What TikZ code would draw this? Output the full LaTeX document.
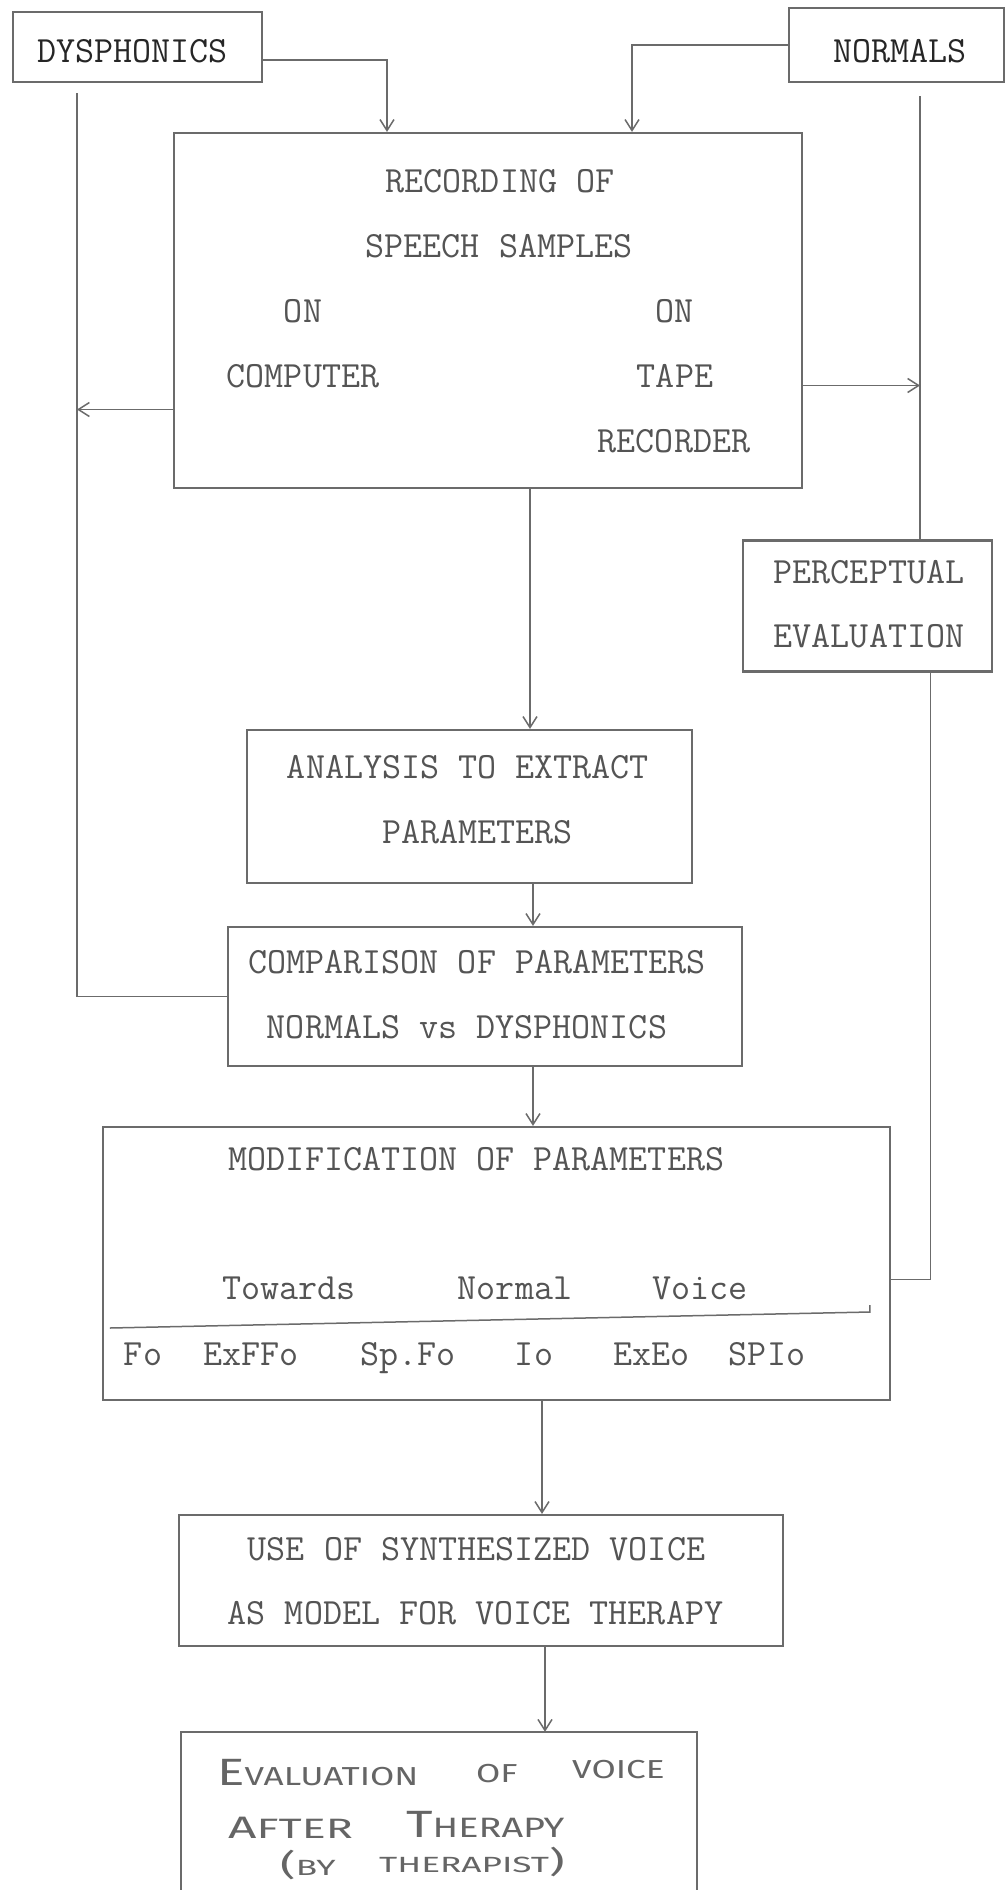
\documentclass[tikz,border=0pt]{standalone}
\usepackage{fontspec}
\newfontfamily\handfont[FakeStretch=1.35]{Fira Sans}
\newfontfamily\handwide[FakeStretch=1.6]{Fira Sans}
\usetikzlibrary{arrows.meta}
\definecolor{ink}{gray}{0.33}
\definecolor{linec}{gray}{0.42}
\begin{document}
\begin{tikzpicture}[x=1pt,y=-1pt,
  box/.style={draw=linec, line width=2.2pt, inner sep=0pt},
  conn/.style={draw=linec, line width=1.5pt},
  arr/.style={conn, -{Straight Barb[length=11pt,width=14pt,line width=1.5pt]}},
  tw/.style={text=ink, font=\ttfamily\fontsize{37}{40}\selectfont, inner sep=0pt, anchor=base},
  twb/.style={tw, text=black!85},
  hw/.style={text=ink!90, inner sep=0pt, anchor=base west},
]
\fill[white] (0,0) rectangle (1008,1890);
\useasboundingbox (0,0) rectangle (1008,1890);

% boxes
\node[box, minimum width=249, minimum height=70] (dys) at (137.5,47) {};
\node[box, minimum width=215, minimum height=74] (norm) at (896.5,45) {};
\node[box, minimum width=628, minimum height=355] (rec) at (488,310.5) {};
\node[box, minimum width=249, minimum height=131] (perc) at (867.5,606) {};
\node[box, minimum width=445, minimum height=153] (ana) at (469.5,806.5) {};
\node[box, minimum width=514, minimum height=139] (comp) at (485,996.5) {};
\node[box, minimum width=787, minimum height=273] (mod) at (496.5,1263.5) {};
\node[box, minimum width=604, minimum height=131] (use) at (481,1580.5) {};
\node[inner sep=0pt, minimum width=516, minimum height=158] (eval) at (439,1811) {};
\draw[linec, line width=2.2pt] (eval.south west) -- (eval.north west) -- (eval.north east) -- (eval.south east);

% texts
\node[twb] (tdys) at (132.5,62) {DYSPHONICS};
\node[twb] (tnorm) at (900,62) {NORMALS};
\node[tw] (r1) at (500,192) {RECORDING OF};
\node[tw] (r2) at (499,257) {SPEECH SAMPLES};
\node[tw] (r3) at (303,322) {ON};
\node[tw] (r4) at (674.5,322) {ON};
\node[tw] (r5) at (303,387) {COMPUTER};
\node[tw] (r6) at (675,387) {TAPE};
\node[tw] (r7) at (674,452) {RECORDER};
\node[tw] (p1) at (869,583) {PERCEPTUAL};
\node[tw] (p2) at (869,647) {EVALUATION};
\node[tw] (a1) at (468,778) {ANALYSIS TO EXTRACT};
\node[tw] (a2) at (477.5,843) {PARAMETERS};
\node[tw] (c1) at (477,973) {COMPARISON OF PARAMETERS};
\node[tw] (c2) at (467,1038) {NORMALS vs DYSPHONICS};
\node[tw] (m1) at (476.5,1170) {MODIFICATION OF PARAMETERS};
\node[tw] (m2) at (289,1299) {Towards};
\node[tw] (m3) at (515,1299) {Normal};
\node[tw] (m4) at (700,1299) {Voice};
\node[tw] (f1) at (143,1365) {Fo};
\node[tw] (f2) at (251,1365) {ExFFo};
\node[tw] (f3) at (408,1365) {Sp.Fo};
\node[tw] (f4) at (534,1365) {Io};
\node[tw] (f5) at (651.5,1365) {ExEo};
\node[tw] (f6) at (767,1365) {SPIo};
\node[tw] (u1) at (476.5,1560) {USE OF SYNTHESIZED VOICE};
\node[tw] (u2) at (475.5,1624) {AS MODEL FOR VOICE THERAPY};

\node[hw] (e1) at (217,1785) {\handfont{\fontsize{38}{40}\selectfont E}{\fontsize{26}{28}\selectfont VALUATION}};
\node[hw] (e2) at (476,1782) {\handfont\fontsize{26}{28}\selectfont OF};
\node[hw] (e3) at (572,1778) {\handfont\fontsize{26}{28}\selectfont VOICE};
\node[hw] (e4) at (228,1838) {\handwide{\fontsize{31}{33}\selectfont A}{\fontsize{28}{30}\selectfont FTER}};
\node[hw] (e5) at (406,1837) {\handfont{\fontsize{38}{40}\selectfont T}{\fontsize{28}{30}\selectfont HERAPY}};
\node[hw] (e6) at (280,1875) {\handwide{\fontsize{30}{32}\selectfont (}{\fontsize{22}{24}\selectfont BY}};
\node[hw] (e7) at (379,1872) {\handwide{\fontsize{22}{24}\selectfont THERAPIST}{\fontsize{30}{32}\selectfont )}};

% inner line of modification box
\draw[conn] ([shift={(8pt,-64.5pt)}]mod.west) -- ([shift={(768pt,-48.5pt)}]mod.west) -- ++(0pt,7pt);

% connectors
\coordinate (dl) at (77,93);
\coordinate (nl) at (920,96);
\draw[arr] ([yshift=-13pt]dys.east) -| ([xshift=-101pt]rec.north);
\draw[arr] (norm.west) -| ([xshift=144pt]rec.north);
\draw[conn] (dl) |- (comp.west);
\draw[arr] ([yshift=-99pt]rec.west) -- ([yshift=-99pt]rec.west -| dl);
\draw[conn] (nl) -- (nl |- perc.north);
\draw[arr] ([yshift=-75pt]rec.east) -- ([yshift=-75pt]rec.east -| nl);
\draw[conn] ([xshift=63pt]perc.south) |- ([yshift=-16pt]mod.east);
\draw[arr] ([xshift=42pt]rec.south) -- ([xshift=42pt]rec.south |- ana.north);
\draw[arr] ([xshift=63.5pt]ana.south) -- ([xshift=63.5pt]ana.south |- comp.north);
\draw[arr] ([xshift=48pt]comp.south) -- ([xshift=48pt]comp.south |- mod.north);
\draw[arr] ([xshift=45.5pt]mod.south) -- ([xshift=45.5pt]mod.south |- use.north);
\draw[arr] ([xshift=64pt]use.south) -- ([xshift=64pt]use.south |- eval.north);
\end{tikzpicture}
\end{document}
